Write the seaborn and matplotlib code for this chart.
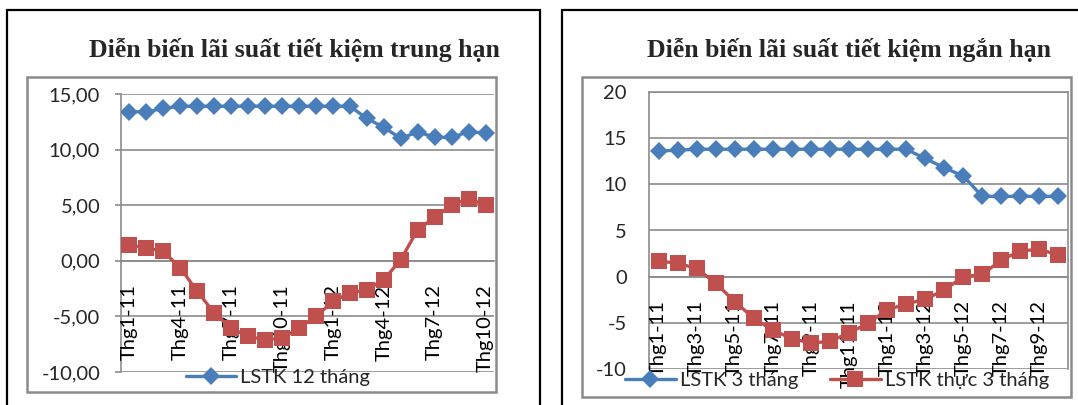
import numpy as np
import pandas as pd
import matplotlib.pyplot as plt
import seaborn as sns
from matplotlib.patches import Rectangle


MONTHS = [
    "Thg1-11", "Thg2-11", "Thg3-11", "Thg4-11", "Thg5-11", "Thg6-11",
    "Thg7-11", "Thg8-11", "Thg9-11", "Thg10-11", "Thg11-11", "Thg12-11",
    "Thg1-12", "Thg2-12", "Thg3-12", "Thg4-12", "Thg5-12", "Thg6-12",
    "Thg7-12", "Thg8-12", "Thg9-12", "Thg10-12",
]

# medium term (12 month deposits)
lstk_12 = [13.4, 13.4, 13.7, 13.9, 13.9, 13.9, 13.9, 13.9, 13.9, 13.9, 13.9,
           13.9, 13.9, 13.9, 12.8, 12.0, 11.0, 11.6, 11.1, 11.1, 11.6, 11.5]
lstk_thuc_12 = [1.45, 1.15, 0.85, -0.65, -2.75, -4.7, -6.05, -6.8, -7.1, -6.95,
                -6.05, -5.0, -3.65, -2.9, -2.6, -1.7, 0.1, 2.8, 3.9, 5.0, 5.6, 5.0]

# short term (3 month deposits)
lstk_3 = [13.6, 13.7, 13.8, 13.8, 13.8, 13.8, 13.8, 13.8, 13.8, 13.8, 13.8,
          13.8, 13.8, 13.8, 12.8, 11.8, 10.9, 8.7, 8.7, 8.7, 8.7, 8.7]
lstk_thuc_3 = [1.7, 1.45, 0.9, -0.7, -2.7, -4.5, -5.8, -6.7, -7.2, -7.0, -6.1,
               -5.05, -3.6, -2.95, -2.45, -1.45, 0.0, 0.25, 1.8, 2.8, 2.95, 2.35]

TITLE_MID = "Diễn biến lãi suất tiết kiệm trung hạn"
TITLE_SHORT = "Diễn biến lãi suất tiết kiệm ngắn hạn"

BLUE = "#4a7ebb"
RED = "#c0504d"
GRID = "#8c8c8c"

W, H = 1078, 405


def fx(px):
    return px / W


def fy(py):
    return 1 - py / H


def add_rect(fig, x0, y0, x1, y1, color, lw):
    fig.add_artist(Rectangle((fx(x0), fy(y1)), fx(x1 - x0), (y1 - y0) / H,
                             transform=fig.transFigure, fill=False,
                             edgecolor=color, linewidth=lw, clip_on=False))


def make_axes(fig, x0, y0, x1, y1):
    return fig.add_axes([fx(x0), fy(y1), fx(x1 - x0), (y1 - y0) / H])


def draw_series(ax, df, nominal_col, real_col, nominal_label, real_label):
    sns.lineplot(data=df, x="pos", y=nominal_col, ax=ax, color=BLUE,
                 linewidth=2.4, marker="D", markersize=9, markeredgewidth=0,
                 label=nominal_label, zorder=3)
    sns.lineplot(data=df, x="pos", y=real_col, ax=ax, color=RED,
                 linewidth=2.4, marker="s", markersize=11.5, markeredgewidth=0,
                 label=real_label, zorder=3)


def style_axis(ax, ymin, ymax, label_step, yfmt):
    # move the category axis to y=0 first: this resets the ticks
    ax.spines["bottom"].set_position(("data", 0))
    ax.set_xlim(-0.5, len(MONTHS) - 0.5)
    ax.set_ylim(ymin, ymax)
    yt = np.arange(ymin, ymax + 1, 5)
    ax.set_yticks(yt)
    ax.set_yticklabels([yfmt(v) for v in yt])
    for v in yt:
        ax.axhline(v, color=GRID, linewidth=1.2, zorder=0.5)

    ax.set_xticks(np.arange(0, len(MONTHS), label_step))
    ax.set_xticklabels(MONTHS[::label_step])
    ax.tick_params(axis="x", which="major", labelrotation=90)
    ax.set_axisbelow(False)
    ax.set_xlabel("")
    ax.set_ylabel("")


def main():
    sns.set_style("white")
    plt.rcParams["font.family"] = ["Lato", "DejaVu Sans"]
    plt.rcParams["font.size"] = 14.5

    df = pd.DataFrame({
        "pos": np.arange(len(MONTHS)),
        "month": MONTHS,
        "lstk_12": lstk_12,
        "lstk_thuc_12": lstk_thuc_12,
        "lstk_3": lstk_3,
        "lstk_thuc_3": lstk_thuc_3,
    })

    fig = plt.figure(figsize=(W / 100, H / 100), dpi=100)

    # outer panel borders
    add_rect(fig, 7, 10, 540, 412, "black", 1.6)
    add_rect(fig, 562, 10, 1085, 412, "black", 1.6)
    # chart area frames
    add_rect(fig, 27, 77, 496, 392, "#8a8a8a", 1.8)
    add_rect(fig, 582, 77, 1071, 397, "#8a8a8a", 1.8)

    title_font = dict(family=["Liberation Serif", "DejaVu Serif"],
                      fontsize=18.5, fontweight="bold")
    fig.text(fx(294), fy(50), TITLE_MID, ha="center", va="center", **title_font)
    fig.text(fx(849), fy(50), TITLE_SHORT, ha="center", va="center", **title_font)

    # --- left: medium term
    ax1 = make_axes(fig, 121, 94, 494, 372)
    draw_series(ax1, df, "lstk_12", "lstk_thuc_12", "LSTK 12 tháng", "_nolegend_")
    style_axis(ax1, -10, 15, 3, lambda v: f"{v:.2f}".replace(".", ","))
    for s in ["top", "right"]:
        ax1.spines[s].set_visible(False)
    for s in ["left", "bottom"]:
        ax1.spines[s].set_color(GRID)
        ax1.spines[s].set_linewidth(1.2)
    ax1.set_xticks(np.arange(2.5, len(MONTHS) - 1, 3), minor=True)
    ax1.tick_params(axis="x", which="major", length=0, pad=17, colors="black")
    ax1.tick_params(axis="x", which="minor", length=7, width=1.2, color=GRID,
                    direction="out")
    ax1.tick_params(axis="y", length=4, width=1.2, color=GRID, pad=11,
                    direction="out", left=True)
    leg1 = ax1.legend(loc="center", bbox_to_anchor=(fx(278), fy(377)),
                      bbox_transform=fig.transFigure, frameon=False,
                      handlelength=2.5, handletextpad=0.2, borderaxespad=0)
    leg1.set_zorder(5)

    # --- right: short term
    ax2 = make_axes(fig, 649, 92, 1068, 369)
    draw_series(ax2, df, "lstk_3", "lstk_thuc_3", "LSTK 3 tháng", "LSTK thực 3 tháng")
    style_axis(ax2, -10, 20, 2, lambda v: f"{v:d}")
    for s in ["top", "right", "left", "bottom"]:
        ax2.spines[s].set_color(GRID)
        ax2.spines[s].set_linewidth(1.2)
    ax2.tick_params(axis="x", length=0, pad=17, colors="black")
    ax2.tick_params(axis="y", length=0, pad=16)
    leg2 = ax2.legend(loc="center", bbox_to_anchor=(fx(837), fy(380)),
                      bbox_transform=fig.transFigure, frameon=False, ncol=2,
                      handlelength=2.5, handletextpad=0.2, columnspacing=1.6,
                      borderaxespad=0)
    leg2.set_zorder(5)

    fig.savefig("out.png", dpi=100)
    plt.close(fig)


if __name__ == "__main__":
    main()
